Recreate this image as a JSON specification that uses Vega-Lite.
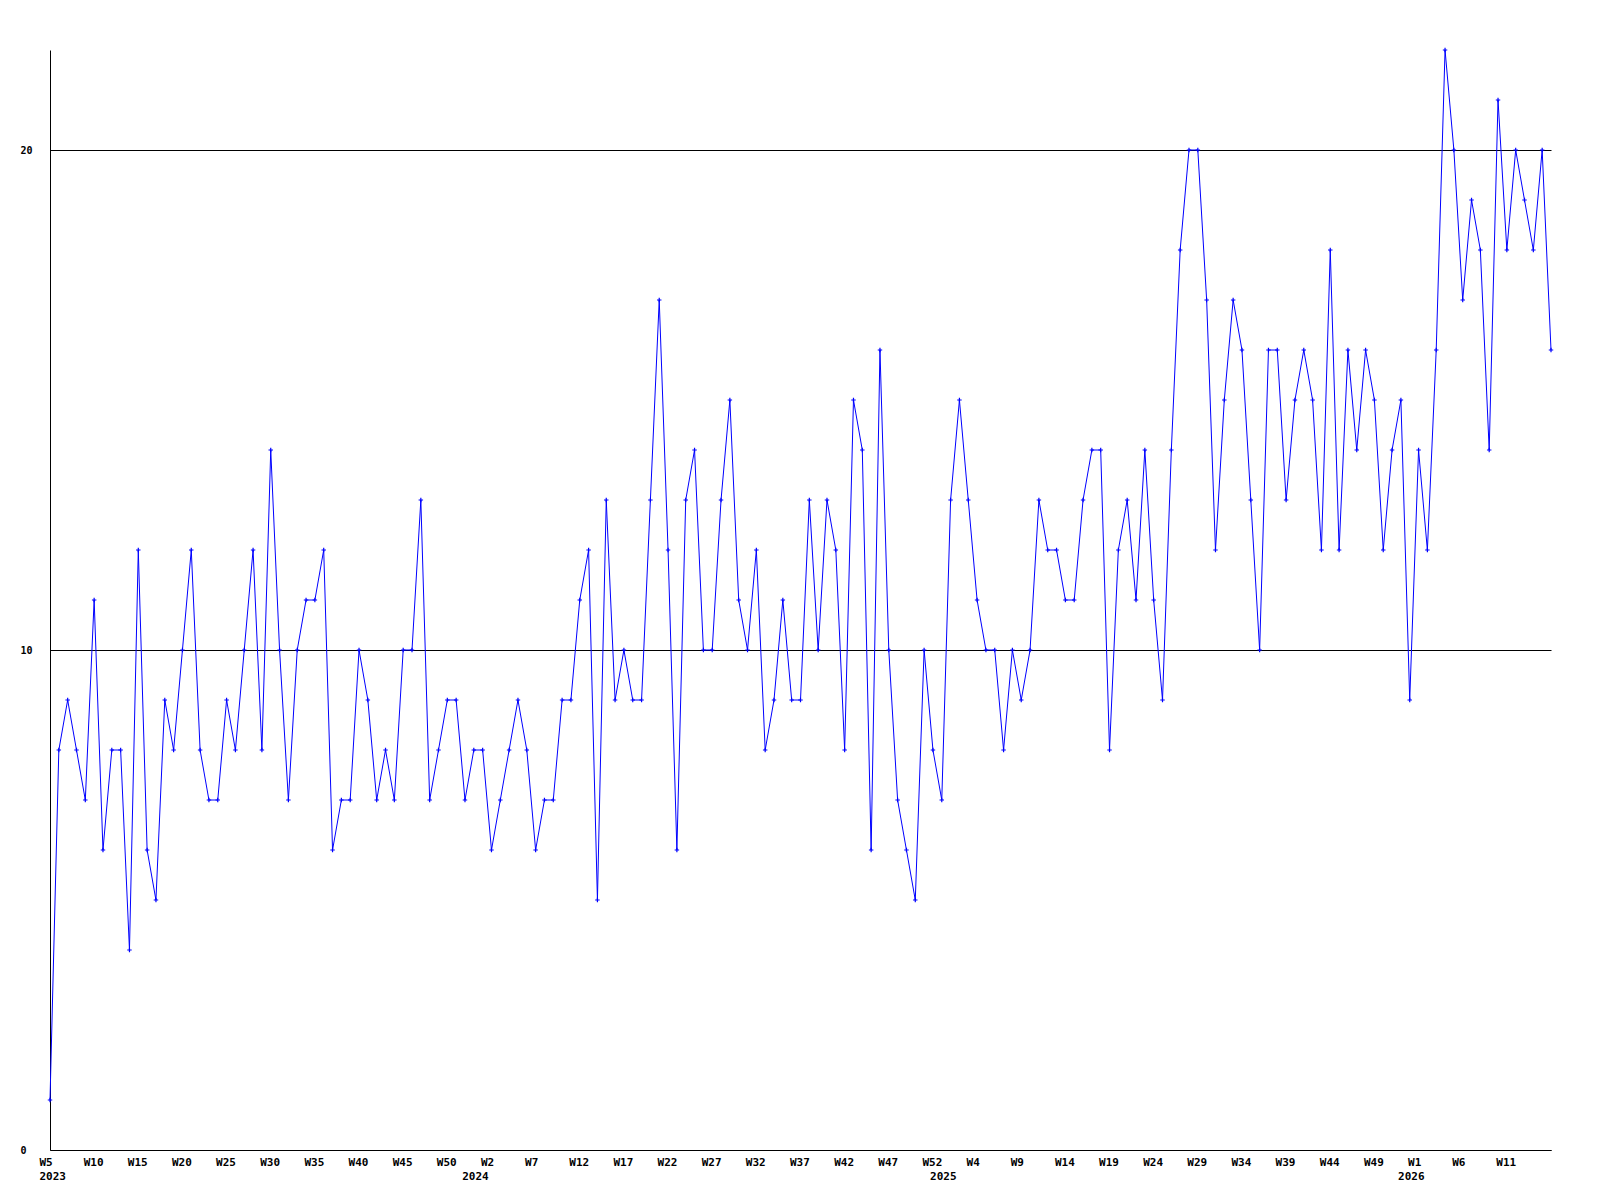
{
  "$schema": "https://vega.github.io/schema/vega-lite/v6.json",
  "width": 1501,
  "height": 1100,
  "autosize": {"type": "none"},
  "padding": {"left": 50, "top": 50, "right": 49, "bottom": 50},
  "background": "white",
  "config": {
    "view": {"stroke": null},
    "axis": {"labelFont": "DejaVu Sans Mono", "labelFontWeight": "bold", "labelColor": "black", "title": null}
  },
  "data": {"values": [
    {"w":"2023-W5","v":1},{"w":"2023-W6","v":8},{"w":"2023-W7","v":9},{"w":"2023-W8","v":8},{"w":"2023-W9","v":7},
    {"w":"2023-W10","v":11},{"w":"2023-W11","v":6},{"w":"2023-W12","v":8},{"w":"2023-W13","v":8},{"w":"2023-W14","v":4},
    {"w":"2023-W15","v":12},{"w":"2023-W16","v":6},{"w":"2023-W17","v":5},{"w":"2023-W18","v":9},{"w":"2023-W19","v":8},
    {"w":"2023-W20","v":10},{"w":"2023-W21","v":12},{"w":"2023-W22","v":8},{"w":"2023-W23","v":7},{"w":"2023-W24","v":7},
    {"w":"2023-W25","v":9},{"w":"2023-W26","v":8},{"w":"2023-W27","v":10},{"w":"2023-W28","v":12},{"w":"2023-W29","v":8},
    {"w":"2023-W30","v":14},{"w":"2023-W31","v":10},{"w":"2023-W32","v":7},{"w":"2023-W33","v":10},{"w":"2023-W34","v":11},
    {"w":"2023-W35","v":11},{"w":"2023-W36","v":12},{"w":"2023-W37","v":6},{"w":"2023-W38","v":7},{"w":"2023-W39","v":7},
    {"w":"2023-W40","v":10},{"w":"2023-W41","v":9},{"w":"2023-W42","v":7},{"w":"2023-W43","v":8},{"w":"2023-W44","v":7},
    {"w":"2023-W45","v":10},{"w":"2023-W46","v":10},{"w":"2023-W47","v":13},{"w":"2023-W48","v":7},{"w":"2023-W49","v":8},
    {"w":"2023-W50","v":9},{"w":"2023-W51","v":9},{"w":"2023-W52","v":7},{"w":"2023-W53","v":8},
    {"w":"2024-W1","v":8},{"w":"2024-W2","v":6},{"w":"2024-W3","v":7},{"w":"2024-W4","v":8},{"w":"2024-W5","v":9},
    {"w":"2024-W6","v":8},{"w":"2024-W7","v":6},{"w":"2024-W8","v":7},{"w":"2024-W9","v":7},{"w":"2024-W10","v":9},
    {"w":"2024-W11","v":9},{"w":"2024-W12","v":11},{"w":"2024-W13","v":12},{"w":"2024-W14","v":5},{"w":"2024-W15","v":13},
    {"w":"2024-W16","v":9},{"w":"2024-W17","v":10},{"w":"2024-W18","v":9},{"w":"2024-W19","v":9},{"w":"2024-W20","v":13},
    {"w":"2024-W21","v":17},{"w":"2024-W22","v":12},{"w":"2024-W23","v":6},{"w":"2024-W24","v":13},{"w":"2024-W25","v":14},
    {"w":"2024-W26","v":10},{"w":"2024-W27","v":10},{"w":"2024-W28","v":13},{"w":"2024-W29","v":15},{"w":"2024-W30","v":11},
    {"w":"2024-W31","v":10},{"w":"2024-W32","v":12},{"w":"2024-W33","v":8},{"w":"2024-W34","v":9},{"w":"2024-W35","v":11},
    {"w":"2024-W36","v":9},{"w":"2024-W37","v":9},{"w":"2024-W38","v":13},{"w":"2024-W39","v":10},{"w":"2024-W40","v":13},
    {"w":"2024-W41","v":12},{"w":"2024-W42","v":8},{"w":"2024-W43","v":15},{"w":"2024-W44","v":14},{"w":"2024-W45","v":6},
    {"w":"2024-W46","v":16},{"w":"2024-W47","v":10},{"w":"2024-W48","v":7},{"w":"2024-W49","v":6},{"w":"2024-W50","v":5},
    {"w":"2024-W51","v":10},{"w":"2024-W52","v":8},{"w":"2024-W53","v":7},
    {"w":"2025-W1","v":13},{"w":"2025-W2","v":15},{"w":"2025-W3","v":13},{"w":"2025-W4","v":11},{"w":"2025-W5","v":10},
    {"w":"2025-W6","v":10},{"w":"2025-W7","v":8},{"w":"2025-W8","v":10},{"w":"2025-W9","v":9},{"w":"2025-W10","v":10},
    {"w":"2025-W11","v":13},{"w":"2025-W12","v":12},{"w":"2025-W13","v":12},{"w":"2025-W14","v":11},{"w":"2025-W15","v":11},
    {"w":"2025-W16","v":13},{"w":"2025-W17","v":14},{"w":"2025-W18","v":14},{"w":"2025-W19","v":8},{"w":"2025-W20","v":12},
    {"w":"2025-W21","v":13},{"w":"2025-W22","v":11},{"w":"2025-W23","v":14},{"w":"2025-W24","v":11},{"w":"2025-W25","v":9},
    {"w":"2025-W26","v":14},{"w":"2025-W27","v":18},{"w":"2025-W28","v":20},{"w":"2025-W29","v":20},{"w":"2025-W30","v":17},
    {"w":"2025-W31","v":12},{"w":"2025-W32","v":15},{"w":"2025-W33","v":17},{"w":"2025-W34","v":16},{"w":"2025-W35","v":13},
    {"w":"2025-W36","v":10},{"w":"2025-W37","v":16},{"w":"2025-W38","v":16},{"w":"2025-W39","v":13},{"w":"2025-W40","v":15},
    {"w":"2025-W41","v":16},{"w":"2025-W42","v":15},{"w":"2025-W43","v":12},{"w":"2025-W44","v":18},{"w":"2025-W45","v":12},
    {"w":"2025-W46","v":16},{"w":"2025-W47","v":14},{"w":"2025-W48","v":16},{"w":"2025-W49","v":15},{"w":"2025-W50","v":12},
    {"w":"2025-W51","v":14},{"w":"2025-W52","v":15},{"w":"2025-W53","v":9},
    {"w":"2026-W1","v":14},{"w":"2026-W2","v":12},{"w":"2026-W3","v":16},{"w":"2026-W4","v":22},{"w":"2026-W5","v":20},
    {"w":"2026-W6","v":17},{"w":"2026-W7","v":19},{"w":"2026-W8","v":18},{"w":"2026-W9","v":14},{"w":"2026-W10","v":21},
    {"w":"2026-W11","v":18},{"w":"2026-W12","v":20},{"w":"2026-W13","v":19},{"w":"2026-W14","v":18},{"w":"2026-W15","v":20},
    {"w":"2026-W16","v":16}
  ]},
  "layer": [
    {
      "mark": {"type": "line", "color": "#0000ff", "strokeWidth": 1},
      "encoding": {
        "x": {
          "field": "w", "type": "ordinal", "sort": null,
          "scale": {"type": "point", "padding": 0},
          "axis": {
            "orient": "bottom",
            "values": ["2023-W5","2023-W10","2023-W15","2023-W20","2023-W25","2023-W30","2023-W35","2023-W40","2023-W45","2023-W50",
                       "2024-W2","2024-W7","2024-W12","2024-W17","2024-W22","2024-W27","2024-W32","2024-W37","2024-W42","2024-W47","2024-W52",
                       "2025-W4","2025-W9","2025-W14","2025-W19","2025-W24","2025-W29","2025-W34","2025-W39","2025-W44","2025-W49",
                       "2026-W1","2026-W6","2026-W11"],
            "labelExpr": "split(datum.value, '-')[1]",
            "labelAngle": 0,
            "labelAlign": "left",
            "labelBaseline": "middle",
            "labelOffset": -11,
            "labelPadding": 12,
            "labelFontSize": 11,
            "labelOverlap": false,
            "ticks": false,
            "grid": false,
            "domain": true,
            "domainColor": "black",
            "domainWidth": 1
          }
        },
        "y": {
          "field": "v", "type": "quantitative",
          "scale": {"domain": [0, 22], "nice": false, "zero": true},
          "axis": {
            "values": [0, 10, 20],
            "grid": true,
            "gridColor": "black",
            "gridOpacity": 1,
            "gridWidth": 1,
            "ticks": false,
            "domain": true,
            "domainColor": "black",
            "domainWidth": 1,
            "labelAlign": "left",
            "labelBaseline": "middle",
            "labelPadding": 30,
            "labelFontSize": 10
          }
        }
      }
    },
    {
      "mark": {"type": "point", "shape": "M-1,0H1M0,-1V1", "size": 20, "filled": false, "color": "#0000ff", "strokeWidth": 1.2, "opacity": 1},
      "encoding": {
        "x": {
          "field": "w", "type": "ordinal", "sort": null,
          "scale": {"type": "point", "padding": 0},
          "axis": {
            "orient": "bottom",
            "values": ["2023-W5", "2024-W1", "2025-W1", "2026-W1"],
            "labelExpr": "split(datum.value, '-')[0]",
            "labelAngle": 0,
            "labelAlign": "left",
            "labelBaseline": "middle",
            "labelOffset": {"condition": {"test": "datum.value === '2023-W5'", "value": -11}, "value": -21},
            "labelPadding": 26,
            "labelFontSize": 11,
            "labelOverlap": false,
            "ticks": false,
            "grid": false,
            "domain": false
          }
        },
        "y": {"field": "v", "type": "quantitative"}
      }
    }
  ],
  "resolve": {"axis": {"x": "independent"}}
}
